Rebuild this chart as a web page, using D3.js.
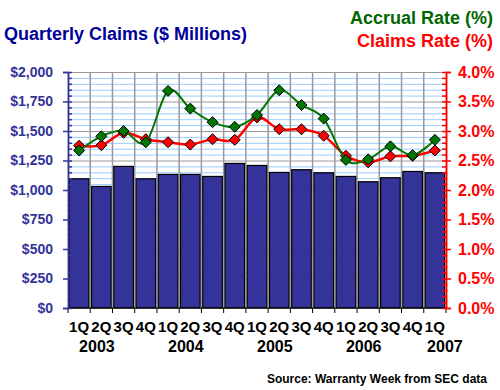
<!DOCTYPE html>
<html>
<head>
<meta charset="utf-8">
<script src="https://cdn.jsdelivr.net/npm/d3@7"></script>
<style>
  body { margin: 0; background: #fff; }
  svg text { font-family: "Liberation Sans", Arial, sans-serif; font-weight: bold; }
</style>
</head>
<body>
<svg id="chart" width="500" height="390"></svg>
<script>
// quarters 1Q03 .. 1Q07
const periods = ['1Q03','2Q03','3Q03','4Q03','1Q04','2Q04','3Q04','4Q04',
                 '1Q05','2Q05','3Q05','4Q05','1Q06','2Q06','3Q06','4Q06','1Q07'];
const years = ['2003','2004','2005','2006','2007'];
const claims = [1095,1030,1200,1095,1132,1132,1115,1225,1208,1149,1172,1146,1115,1070,1104,1157,1146];
const accrualRate = [2.67,2.91,3.00,2.81,3.68,3.38,3.15,3.07,3.27,3.69,3.44,3.21,2.51,2.52,2.74,2.59,2.85];
const claimsRate = [2.75,2.76,2.97,2.86,2.81,2.77,2.86,2.85,3.23,3.03,3.03,2.92,2.58,2.47,2.57,2.58,2.67];
const dollarTicks = d3.range(0, 2001, 250);
const pctTicks = d3.range(0, 4.01, 0.5);

const svg = d3.select('#chart');
const margin = {left: 68, right: 54, top: 72, bottom: 82};
const W = 500, H = 390;

const x = d3.scaleBand().domain(periods).range([margin.left, W - margin.right]).padding(0);
const yL = d3.scaleLinear().domain([0, 2000]).range([H - margin.bottom, margin.top]);
const yR = d3.scaleLinear().domain([0, 4]).range([H - margin.bottom, margin.top]);
const bw = x.bandwidth();

// gridlines
const grid = svg.append('g').attr('class', 'grid');
grid.selectAll('line.minor')
    .data(d3.range(0, 2001, 50).filter(d => d % 250 !== 0))
    .enter().append('line')
    .attr('x1', margin.left).attr('x2', W - margin.right)
    .attr('y1', d => yL(d) + 0.5).attr('y2', d => yL(d) + 0.5)
    .attr('stroke', '#99ccff').attr('stroke-width', 1);
grid.selectAll('line.major')
    .data(dollarTicks.filter(d => d > 0))
    .enter().append('line')
    .attr('x1', margin.left).attr('x2', W - margin.right)
    .attr('y1', d => yL(d) + 0.5).attr('y2', d => yL(d) + 0.5)
    .attr('stroke', '#999999').attr('stroke-width', 1);
grid.selectAll('line.vert')
    .data(periods.slice(1))
    .enter().append('line')
    .attr('x1', d => x(d)).attr('x2', d => x(d))
    .attr('y1', margin.top).attr('y2', yL(0))
    .attr('stroke', '#999999').attr('stroke-width', 1.5);

// bars
svg.append('g').selectAll('rect')
    .data(claims)
    .enter().append('rect')
    .attr('x', (d, i) => x(periods[i]) + bw * 0.06)
    .attr('width', bw * 0.88)
    .attr('y', d => yL(d))
    .attr('height', d => yL(0) - yL(d))
    .attr('fill', '#333399')
    .attr('stroke', '#000')
    .attr('stroke-width', 1.2);

// lines
const cx = (d, i) => x(periods[i]) + bw / 2;
const line = d3.line().x(cx).y(d => yR(d)).curve(d3.curveCardinal.tension(0));
const diamond = (d, i) => {
  const px = cx(d, i), py = yR(d), r = 5.5;
  return `M${px},${py - r}L${px + r},${py}L${px},${py + r}L${px - r},${py}Z`;
};
function series(data, color, width) {
  const g = svg.append('g');
  g.append('path').datum(data).attr('d', line)
    .attr('fill', 'none').attr('stroke', color).attr('stroke-width', width);
  g.selectAll('path.m').data(data).enter().append('path')
    .attr('d', diamond).attr('fill', color).attr('stroke', '#000').attr('stroke-width', 1);
}
series(claimsRate, '#ff0000', 2.5);
series(accrualRate, '#007700', 2);

// bottom axis
const xAxis = svg.append('g').attr('transform', `translate(0,${yL(0)})`);
xAxis.append('line').attr('x1', margin.left).attr('x2', W - margin.right)
    .attr('stroke', '#000').attr('stroke-width', 1);
xAxis.selectAll('line.t').data(periods.concat(['end']))
    .enter().append('line')
    .attr('x1', (d, i) => margin.left + i * bw).attr('x2', (d, i) => margin.left + i * bw)
    .attr('y1', 0).attr('y2', 5).attr('stroke', '#000');
xAxis.selectAll('text.q').data(periods)
    .enter().append('text')
    .attr('x', d => x(d) + bw / 2).attr('y', 24)
    .attr('text-anchor', 'middle').attr('font-size', 15).attr('fill', '#000')
    .text(d => d.slice(0, 2));
xAxis.selectAll('text.y').data(years)
    .enter().append('text')
    .attr('x', d => {
      const qs = periods.filter(p => p.slice(2) === d.slice(2));
      return qs.length > 1 ? x(qs[1]) + bw * 0.3 : x(qs[0]) + bw * 0.95;
    })
    .attr('y', 44)
    .attr('text-anchor', 'middle').attr('font-size', 16).attr('fill', '#000')
    .text(d => d);

// left axis
const leftG = svg.append('g').attr('transform', `translate(${margin.left},0)`);
leftG.call(d3.axisLeft(yL).tickValues(dollarTicks).tickSizeOuter(0).tickSize(5).tickPadding(10)
    .tickFormat(d => '$' + d3.format(',')(d)));
leftG.append('g').call(d3.axisRight(yL).tickValues(d3.range(0, 2001, 50)).tickSize(4).tickSizeOuter(0).tickFormat(''));
leftG.selectAll('path.domain').attr('stroke', '#333399').attr('stroke-width', 1.5);
leftG.selectAll('line').attr('stroke', '#333399').attr('stroke-width', 1.5);
leftG.selectAll('text').attr('fill', '#333399').attr('font-size', 14)
    .attr('font-family', '"Liberation Sans", Arial, sans-serif').attr('font-weight', 'bold');

// right axis
const rightG = svg.append('g').attr('transform', `translate(${W - margin.right},0)`);
rightG.call(d3.axisRight(yR).tickValues(pctTicks).tickSizeOuter(0).tickSize(5).tickPadding(7)
    .tickFormat(d => d.toFixed(1) + '%'));
rightG.append('g').call(d3.axisLeft(yR).tickValues(d3.range(0, 41).map(d => d / 10)).tickSize(4).tickSizeOuter(0).tickFormat(''));
rightG.selectAll('path.domain').attr('stroke', '#ff0000').attr('stroke-width', 1.5);
rightG.selectAll('line').attr('stroke', '#ff0000').attr('stroke-width', 1.5);
rightG.selectAll('text').attr('fill', '#ff0000').attr('font-size', 16)
    .attr('font-family', '"Liberation Sans", Arial, sans-serif').attr('font-weight', 'bold');

// titles
svg.append('text').attr('x', 4).attr('y', 40).attr('font-size', 18).attr('fill', '#000099')
    .text('Quarterly Claims ($ Millions)');
svg.append('text').attr('x', 493).attr('y', 24).attr('text-anchor', 'end').attr('font-size', 18)
    .attr('fill', '#006600').text('Accrual Rate (%)');
svg.append('text').attr('x', 493).attr('y', 47).attr('text-anchor', 'end').attr('font-size', 18)
    .attr('fill', '#ff0000').text('Claims Rate (%)');
svg.append('text').attr('x', 487).attr('y', 383).attr('text-anchor', 'end').attr('font-size', 12)
    .attr('fill', '#000').text('Source: Warranty Week from SEC data');
</script>
</body>
</html>
